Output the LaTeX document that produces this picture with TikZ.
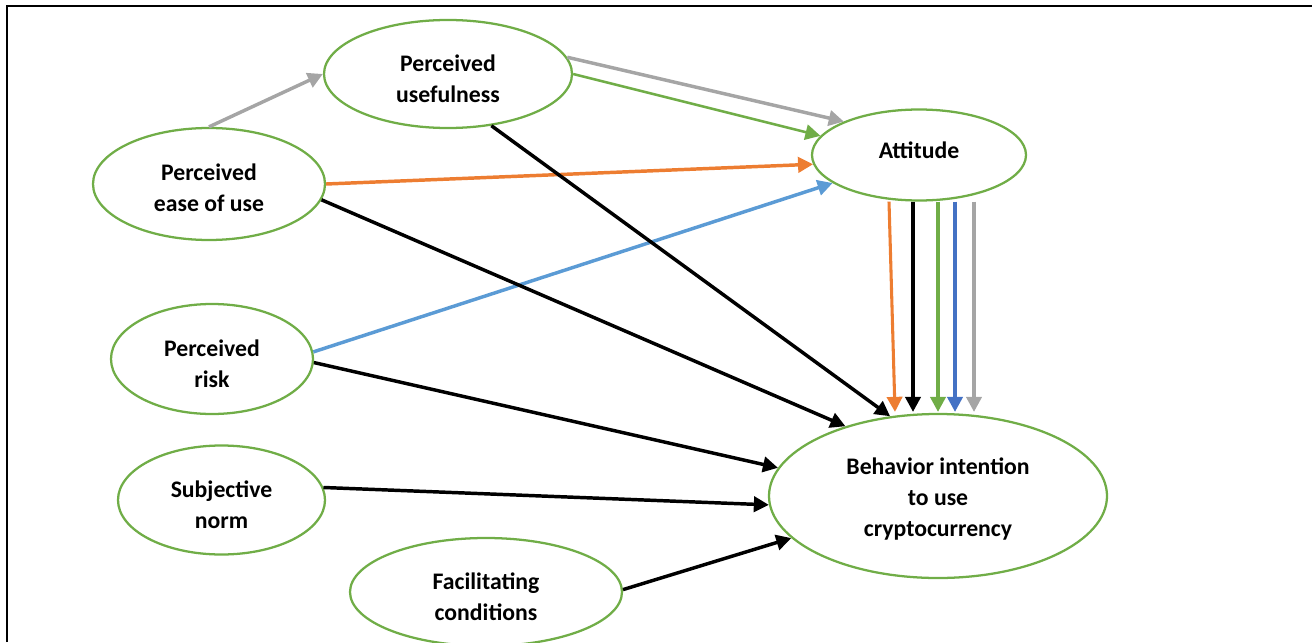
\documentclass[tikz,border=0pt]{standalone}
\usepackage{fontspec}
\setmainfont{Carlito}
\usetikzlibrary{arrows.meta,shapes.geometric,calc}
\definecolor{cgreen}{HTML}{70AD47}
\definecolor{cgray}{HTML}{A5A5A5}
\definecolor{corange}{HTML}{ED7D31}
\definecolor{clblue}{HTML}{5B9BD5}
\definecolor{cdblue}{HTML}{4472C4}
\begin{document}
\begin{tikzpicture}[x=0.75pt,y=-0.75pt,
  construct/.style={ellipse,draw=cgreen,line width=1.7pt,inner sep=0pt},
  txt/.style={align=center,inner sep=0pt,font=\bfseries\fontsize{17.8pt}{23.5pt}\selectfont},
  esize/.style 2 args={minimum width=#1*0.75pt,minimum height=#2*0.75pt},
  link/.style={line width=2.6pt,-{Triangle[length=11.25pt,width=11.5pt]}},
  vlink/.style={line width=2.3pt,-{Triangle[length=11.25pt,width=11.5pt]}},
  thinlink/.style={line width=1.9pt,-{Triangle[length=11.25pt,width=11.5pt]}},
  frame/.style={line width=1.7pt}
]
\useasboundingbox (0,0) rectangle (1312,642);
\draw[frame] (7,642) -- (7,6) -- (1312,6);

\node[construct,esize={248}{108},label={[txt,yshift=-3.75pt]center:{Perceived\\usefulness}}] (pu) at (448,74) {};
\node[construct,esize={232}{112},label={[txt,yshift=-3pt]center:{Perceived\\ease of use}}] (pe) at (209,184) {};
\node[construct,esize={214}{91},label={[txt,yshift=3.75pt]center:{Attitude}}] (at) at (919,155) {};
\node[construct,esize={202}{110},label={[txt,yshift=-3.75pt]center:{Perceived\\risk}}] (pr) at (212,359) {};
\node[construct,esize={207}{109},label={[txt,yshift=-3.75pt]center:{Subjective\\norm}}] (sn) at (221.5,500) {};
\node[construct,esize={272}{108},label={[txt,yshift=-3.75pt]center:{Facilitating\\conditions}}] (fc) at (486,592) {};
\node[construct,esize={338}{164},label={[txt,yshift=-2.25pt]center:{Behavior intention\\to use\\cryptocurrency}}] (bi) at (938,496) {};

% into perceived usefulness / attitude
\draw[link,cgray] (pe.90) -- (pu.180);
\draw[link,cgray] (pu.8) -- (at.156);
\draw[thinlink,cgreen] (pu.0) -- (at.169);
\draw[link,corange] (pe.0) -- (at.185);
\draw[link,clblue] (pr.4) -- (at.198);

% into behavior intention
\draw[link,black] (pu.-50) -- (bi.121);
\draw[link,black] (pe.-8) -- (bi.143);
\draw[link,black] (pr.-2) -- (bi.170);
\draw[link,black] (sn.7) -- (bi.183);
\draw[link,black] (fc.1) -- (bi.196);

% attitude to behavior intention
\draw[vlink,corange] ($(at.south)+(-30,0)$) -- ($(bi.north)+(-43,-1)$);
\draw[vlink,black]   ($(at.south)+(-6,0)$)  -- ($(bi.north)+(-25,-1)$);
\draw[vlink,cgreen]  ($(at.south)+(19,0)$)  -- ($(bi.north)+(0,-1)$);
\draw[vlink,cdblue]  ($(at.south)+(36,0)$)  -- ($(bi.north)+(17,-1)$);
\draw[vlink,cgray]   ($(at.south)+(55,0)$)  -- ($(bi.north)+(36,-1)$);
\end{tikzpicture}
\end{document}
